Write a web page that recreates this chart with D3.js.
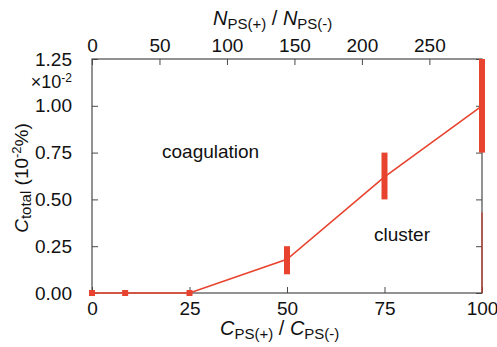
<!DOCTYPE html>
<html>
<head>
<meta charset="utf-8">
<script src="https://cdn.jsdelivr.net/npm/d3@7"></script>
<style>
  body { margin: 0; background: #fff; }
  text { font-family: "Liberation Sans", Arial, sans-serif; fill: #111; }
</style>
</head>
<body>
<div id="chart"></div>
<script>
// data
var ratioC = [0, 8.5, 25, 50, 75, 100];
var total = [0, 0, 0, 0.18, 0.62, 1.0];
var markIdx = [0, 1, 2];
var barX = [50, 75, 100];
var barLow = [0.1, 0.5, 0.75];
var barHigh = [0.25, 0.75, 1.25];
var boundaryX = [100, 100];
var boundaryY = [0, 0.43];
var bottomTicks = [0, 25, 50, 75, 100];
var leftTicks = [0, 0.25, 0.5, 0.75, 1.0, 1.25];
var topTicks = [0, 50, 100, 150, 200, 250];

var svgWidth = 497, svgHeight = 347;
var margin = { top: 59, right: 15, bottom: 54, left: 92 };
var width = svgWidth - margin.left - margin.right;
var height = svgHeight - margin.top - margin.bottom;
var red = "#e8432e";
var axisColor = "#4a4a4a";

var svg = d3.select("#chart").append("svg")
  .attr("width", svgWidth)
  .attr("height", svgHeight);

var g = svg.append("g")
  .attr("transform", `translate(${margin.left}, ${margin.top})`);

var x = d3.scaleLinear().domain([0, 100]).range([0, width]);
var xTop = d3.scaleLinear().domain([0, 289]).range([0, width]);
var y = d3.scaleLinear().domain([0, 1.25]).range([height, 0]);

function styleAxis(sel) {
  sel.select(".domain").remove();
  sel.selectAll(".tick line").attr("stroke", axisColor).attr("stroke-width", 1);
  sel.selectAll(".tick text").style("font-size", "19px")
    .style("font-family", "Liberation Sans, Arial, sans-serif").attr("fill", "#111");
}

// axes, ticks point inward
g.append("g").attr("transform", `translate(0, ${height})`)
  .call(d3.axisBottom(x).tickValues(bottomTicks).tickSize(-6).tickPadding(9).tickFormat(d3.format("d")))
  .call(styleAxis);
g.append("g")
  .call(d3.axisTop(xTop).tickValues(topTicks).tickSize(-6).tickPadding(7).tickFormat(d3.format("d")))
  .call(styleAxis);
g.append("g")
  .call(d3.axisLeft(y).tickValues(leftTicks).tickSize(-6).tickPadding(20).tickFormat(d3.format(".2f")))
  .call(styleAxis);
g.append("g").attr("transform", `translate(${width}, 0)`)
  .call(d3.axisRight(y).tickValues(leftTicks).tickSize(-6).tickFormat(""))
  .call(styleAxis);

g.append("rect")
  .attr("width", width).attr("height", height)
  .attr("fill", "none").attr("stroke", axisColor).attr("stroke-width", 1.2);

// boundary line
g.append("line")
  .attr("x1", x(boundaryX[0])).attr("x2", x(boundaryX[1]))
  .attr("y1", y(boundaryY[0])).attr("y2", y(boundaryY[1]))
  .attr("stroke", "#c0392b").attr("stroke-width", 1.2);

// main line
var line = d3.line().x(function(d, i) { return x(ratioC[i]); }).y(function(d) { return y(d); });
g.append("path").datum(total)
  .attr("d", line)
  .attr("fill", "none").attr("stroke", red).attr("stroke-width", 1.6);

// square markers
g.selectAll(".mk").data(markIdx).enter().append("rect")
  .attr("x", function(i) { return x(ratioC[i]) - 3; })
  .attr("y", function(i) { return y(total[i]) - 3; })
  .attr("width", 6).attr("height", 6)
  .attr("fill", red);

// error bars
g.selectAll(".bar").data(barX).enter().append("rect")
  .attr("x", function(d) { return x(d) - 3; })
  .attr("y", function(d, i) { return y(barHigh[i]); })
  .attr("width", 6)
  .attr("height", function(d, i) { return y(barLow[i]) - y(barHigh[i]); })
  .attr("fill", red);

// region labels
svg.append("text").attr("x", 162).attr("y", 158)
  .style("font-size", "19px").text("coagulation");
svg.append("text").attr("x", 374).attr("y", 241)
  .style("font-size", "19px").text("cluster");

// multiplier
svg.append("text").attr("x", 72).attr("y", 88)
  .attr("text-anchor", "end").style("font-size", "18px")
  .text("\u00d710")
  .append("tspan").attr("dy", -6).style("font-size", "12px").text("-2");

// axis titles
var bt = svg.append("text")
  .attr("x", 220).attr("y", 335)
  .style("font-size", "20px");
bt.append("tspan").style("font-style", "italic").text("C");
bt.append("tspan").attr("dy", 4).style("font-size", "15px").text("PS(+)");
bt.append("tspan").attr("dy", -4).text(" / ");
bt.append("tspan").style("font-style", "italic").text("C");
bt.append("tspan").attr("dy", 4).style("font-size", "15px").text("PS(-)");

var tt = svg.append("text")
  .attr("x", 213).attr("y", 25)
  .style("font-size", "20px");
tt.append("tspan").style("font-style", "italic").text("N");
tt.append("tspan").attr("dy", 4).style("font-size", "15px").text("PS(+)");
tt.append("tspan").attr("dy", -4).text(" / ");
tt.append("tspan").style("font-style", "italic").text("N");
tt.append("tspan").attr("dy", 4).style("font-size", "15px").text("PS(-)");

var lt = svg.append("text")
  .attr("transform", "translate(28, 178) rotate(-90)")
  .attr("text-anchor", "middle").style("font-size", "19px");
lt.append("tspan").style("font-style", "italic").text("C");
lt.append("tspan").attr("dy", 3).style("font-size", "15px").text("total");
lt.append("tspan").attr("dy", -3).text(" (10");
lt.append("tspan").attr("dy", -7).style("font-size", "13px").text("-2");
lt.append("tspan").attr("dy", 7).text("%)");
</script>
</body>
</html>
